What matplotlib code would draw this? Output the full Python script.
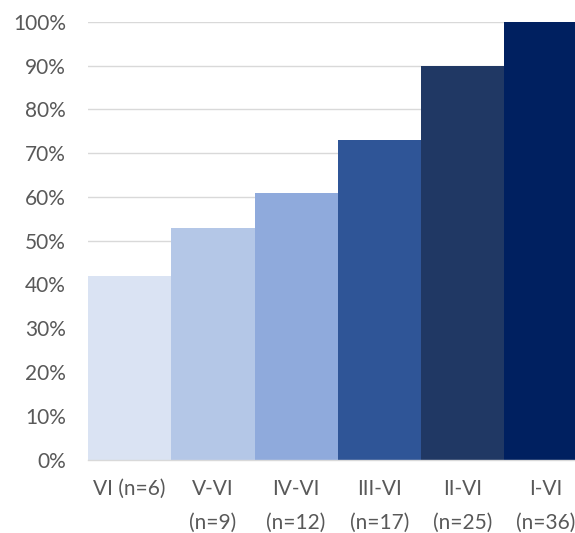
import matplotlib
matplotlib.use("Agg")
import matplotlib.pyplot as plt
from matplotlib.ticker import FuncFormatter

categories = ["VI (n=6)", "V-VI\n(n=9)", "IV-VI\n(n=12)", "III-VI\n(n=17)", "II-VI\n(n=25)", "I-VI\n(n=36)"]
values = [42, 53, 61, 73, 90, 100]
colors = ["#DAE3F3", "#B4C7E7", "#8FAADC", "#2F5597", "#203864", "#002060"]
yticks = [0, 10, 20, 30, 40, 50, 60, 70, 80, 90, 100]

plt.rcParams['font.family'] = ['Lato', 'DejaVu Sans']

fig = plt.figure(figsize=(5.75, 5.33), dpi=100)
ax = fig.add_axes([88/575, 1 - 459.5/533, 499.5/575, 437.5/533])

x = list(range(len(categories)))
ax.bar(x, values, width=1.0, color=colors, zorder=2)
ax.set_xlim(-0.5, len(categories) - 0.5)
ax.set_ylim(0, 100)
ax.set_yticks(yticks)
ax.yaxis.set_major_formatter(FuncFormatter(lambda v, p: f"{int(v)}%"))
ax.set_xticks(x)
ax.set_xticklabels(categories, linespacing=1.85, va='top')

ax.grid(axis='y', color='#D9D9D9', linewidth=1.0, zorder=0)
ax.set_axisbelow(True)
for s in ['top', 'right', 'left']:
    ax.spines[s].set_visible(False)
ax.spines['bottom'].set_color('#D9D9D9')
ax.spines['bottom'].set_linewidth(1.0)
ax.spines['bottom'].set_zorder(3)

ax.tick_params(axis='both', length=0, labelsize=15, labelcolor='#595959')
ax.tick_params(axis='y', pad=16)
ax.tick_params(axis='x', pad=14)

fig.savefig("out.png", dpi=100)
